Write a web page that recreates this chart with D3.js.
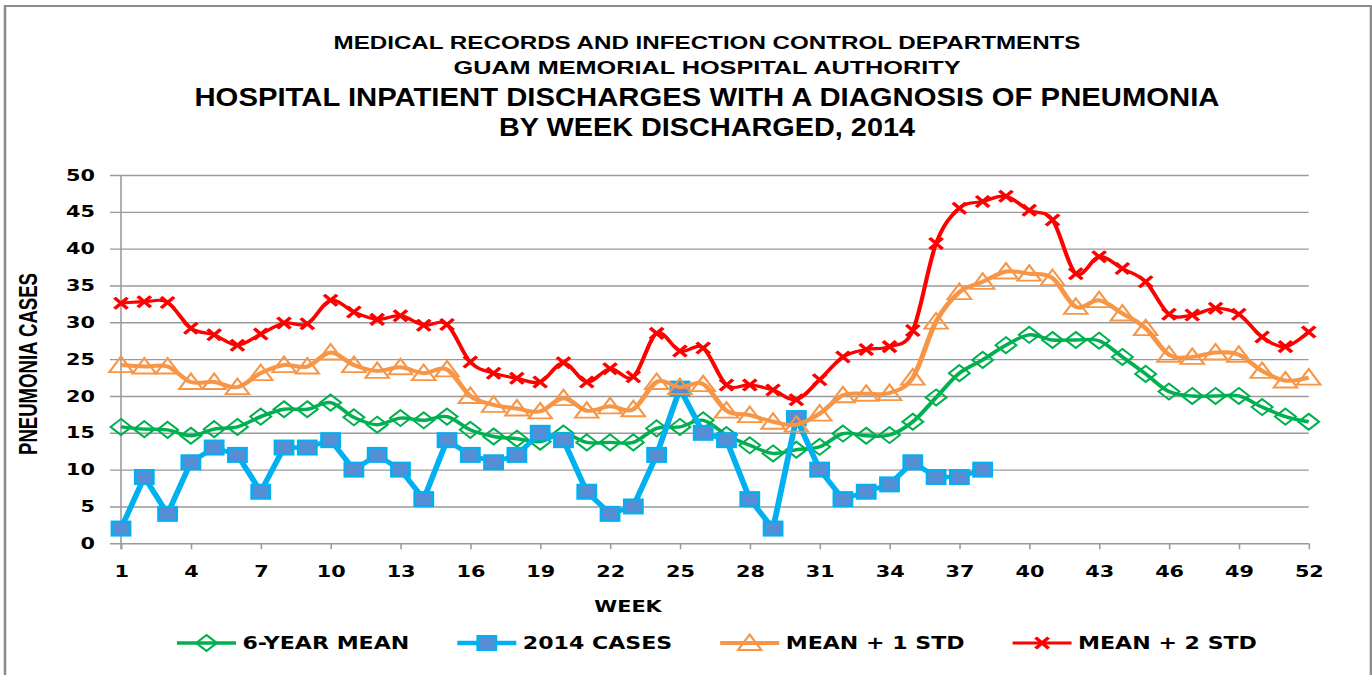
<!DOCTYPE html>
<html>
<head>
<meta charset="utf-8">
<script src="https://cdn.jsdelivr.net/npm/d3@7"></script>
<style>
	html, body { margin: 0; padding: 0; background: #fff; }
	svg { display: block; }
	.tick text { font-family: "DejaVu Sans", Verdana, sans-serif; font-weight: bold; font-size: 16px; fill: #000; }
	.title { font-family: "Liberation Sans Narrow", "Liberation Sans", Arial, sans-serif; font-weight: bold; fill: #000; }
	.legend text, .axisTitle { font-family: "DejaVu Sans", Verdana, sans-serif; font-weight: bold; fill: #000; }
</style>
</head>
<body>
<div id="chart"></div>
<script>
var weeks = [1, 2, 3, 4, 5, 6, 7, 8, 9, 10, 11, 12, 13, 14, 15, 16, 17, 18, 19, 20, 21, 22, 23, 24, 25, 26,
	27, 28, 29, 30, 31, 32, 33, 34, 35, 36, 37, 38, 39, 40, 41, 42, 43, 44, 45, 46, 47, 48, 49, 50, 51, 52];
var weekTicks = [1, 4, 7, 10, 13, 16, 19, 22, 25, 28, 31, 34, 37, 40, 43, 46, 49, 52];
var caseTicks = [0, 5, 10, 15, 20, 25, 30, 35, 40, 45, 50];

var mean6 = [15.8, 15.5, 15.4, 14.6, 15.5, 15.8, 17.2, 18.2, 18.2, 19.1,
	17.1, 16.1, 17.0, 16.7, 17.2, 15.4, 14.5, 14.2, 13.8, 14.9,
	13.7, 13.7, 13.7, 15.6, 15.8, 16.7, 14.7, 13.3, 12.2, 12.7,
	13.1, 14.9, 14.6, 14.7, 16.5, 19.8, 23.1, 24.9, 26.9, 28.3,
	27.6, 27.6, 27.5, 25.3, 23.0, 20.6, 20.0, 20.0, 20.0, 18.5, 17.2, 16.5];
var cases2014 = [2, 9, 4, 11, 13, 12, 7, 13, 13, 14,
	10, 12, 10, 6, 14, 12, 11, 12, 15, 14,
	7, 4, 5, 12, 21, 15, 14, 6, 2, 17,
	10, 6, 7, 8, 11, 9, 9, 10];
var mean1sd = [24.2, 24.0, 24.0, 21.9, 21.9, 21.2, 23.1, 24.2, 24.0, 25.9,
	24.2, 23.4, 23.9, 23.1, 23.6, 20.0, 18.8, 18.3, 17.9, 19.7,
	18.0, 18.6, 18.2, 21.9, 21.2, 21.6, 18.0, 17.4, 16.5, 16.1,
	17.6, 20.1, 20.3, 20.4, 22.5, 30.1, 34.1, 35.5, 36.9, 36.6,
	36.0, 32.1, 33.0, 31.2, 29.2, 25.6, 25.3, 25.9, 25.6, 23.4, 22.1, 22.5];
var mean2sd = [32.6, 32.8, 32.7, 29.2, 28.3, 26.9, 28.4, 29.9, 29.8, 33.0,
	31.4, 30.4, 30.9, 29.6, 29.7, 24.6, 23.1, 22.4, 21.9, 24.5,
	21.9, 23.7, 22.6, 28.5, 26.1, 26.5, 21.5, 21.5, 20.8, 19.5,
	22.2, 25.3, 26.3, 26.7, 28.9, 40.7, 45.5, 46.4, 47.1, 45.2,
	43.9, 36.6, 38.9, 37.3, 35.5, 31.1, 31.0, 31.9, 31.1, 28.0, 26.7, 28.7];

var seriesNames = ["6-YEAR MEAN", "2014 CASES", "MEAN + 1 STD", "MEAN + 2 STD"];
var titleLines = [
	"MEDICAL RECORDS AND INFECTION CONTROL DEPARTMENTS",
	"GUAM MEMORIAL HOSPITAL AUTHORITY",
	"HOSPITAL INPATIENT  DISCHARGES WITH A DIAGNOSIS OF PNEUMONIA",
	"BY WEEK DISCHARGED, 2014"
];

// the reference picture is stretched sideways, so draw narrow and let the viewBox stretch it
var SX = 1.3,
	outerW = 1372,
	outerH = 675,
	W = outerW / SX;

var plotLeft = 121 / SX,
	plotRight = 1308.7 / SX,
	plotTop = 175,
	plotBottom = 543.3;

var svg = d3.select("#chart").append("svg")
	.attr("width", outerW)
	.attr("height", outerH)
	.attr("viewBox", "0 0 " + W + " " + outerH)
	.attr("preserveAspectRatio", "none");

svg.append("rect").attr("width", W).attr("height", outerH).style("fill", "#fff");

// frame
svg.append("path")
	.attr("d", "M" + (5 / SX) + "," + outerH + "V6H" + (1371 / SX) + "V" + outerH)
	.style("fill", "none")
	.style("stroke", "#8c8c8c")
	.style("stroke-width", 2);

var x = d3.scaleLinear().domain([1, 52]).range([plotLeft, plotRight]);
var y = d3.scaleLinear().domain([0, 50]).range([plotBottom, plotTop]);

// titles
var titleBase = [49, 74, 106, 136],
	titleSize = [18, 18, 26, 26],
	titleLen = [747, 507, 1025, 416];
svg.selectAll(".title").data(titleLines).enter().append("text")
	.attr("class", "title")
	.attr("x", 707 / SX)
	.attr("y", function(d, i) { return titleBase[i]; })
	.attr("text-anchor", "middle")
	.attr("textLength", function(d, i) { return titleLen[i] / SX; })
	.attr("lengthAdjust", "spacingAndGlyphs")
	.style("font-size", function(d, i) { return titleSize[i] + "px"; })
	.text(function(d) { return d; });

// y gridlines + labels
var yAxis = svg.append("g")
	.attr("transform", "translate(" + plotLeft + ",0)")
	.call(d3.axisLeft(y).tickValues(caseTicks).tickSizeInner(-(plotRight - plotLeft)).tickSizeOuter(0).tickPadding(20));
yAxis.select(".domain").remove();
yAxis.selectAll(".tick line")
	.attr("x1", -8.5)
	.style("stroke", "#9a9a9a")
	.style("stroke-width", 1.4);

svg.append("line")
	.attr("x1", plotLeft).attr("x2", plotLeft)
	.attr("y1", plotTop).attr("y2", plotBottom + 6)
	.style("stroke", "#9a9a9a")
	.style("stroke-width", 1.2);

// x ticks + labels
var xAxis = svg.append("g")
	.attr("transform", "translate(0," + plotBottom + ")")
	.call(d3.axisBottom(x).tickValues(weekTicks).tickSizeInner(6).tickSizeOuter(0).tickPadding(16));
xAxis.select(".domain").remove();
xAxis.selectAll(".tick line").style("stroke", "#9a9a9a").style("stroke-width", 1.2);

svg.append("text")
	.attr("class", "axisTitle")
	.attr("x", 628 / SX)
	.attr("y", 612)
	.attr("text-anchor", "middle")
	.style("font-size", "16px")
	.text("WEEK");

svg.append("text")
	.attr("class", "title")
	.attr("transform", "translate(" + (37 / SX) + ",364) rotate(-90)")
	.attr("text-anchor", "middle")
	.attr("textLength", 182)
	.attr("lengthAdjust", "spacingAndGlyphs")
	.style("font-size", "20px")
	.text("PNEUMONIA CASES");

// markers
var markers = {
	diamond: function(g, color) {
		g.append("path").attr("d", "M0,-8L8,0L0,8L-8,0Z")
			.style("fill", "none").style("stroke", color).style("stroke-width", 1.8);
	},
	square: function(g, color) {
		g.append("rect").attr("x", -7).attr("y", -7).attr("width", 14).attr("height", 14)
			.style("fill", "#558ED5").style("stroke", color).style("stroke-width", 2);
	},
	triangle: function(g, color) {
		g.append("path").attr("d", "M0,-8.5L9,7L-9,7Z")
			.style("fill", "none").style("stroke", color).style("stroke-width", 1.8);
	},
	cross: function(g, color) {
		g.append("path").attr("d", "M-5,-5.5L5,5.5M-5,5.5L5,-5.5")
			.style("fill", "none").style("stroke", color).style("stroke-width", 3);
	}
};

var series = [
	{ name: seriesNames[0], values: mean6, color: "#00B050", width: 3.4, marker: "diamond", smooth: true },
	{ name: seriesNames[1], values: cases2014, color: "#00B0F0", width: 4.5, marker: "square", smooth: false },
	{ name: seriesNames[2], values: mean1sd, color: "#F79646", width: 4, marker: "triangle", smooth: true },
	{ name: seriesNames[3], values: mean2sd, color: "#FF0000", width: 3.2, marker: "cross", smooth: true }
];

series.forEach(function(s) {
	var pts = s.values.map(function(v, i) { return [weeks[i], v]; });
	var line = d3.line()
		.x(function(d) { return x(d[0]); })
		.y(function(d) { return y(d[1]); })
		.curve(s.smooth ? d3.curveCardinal.tension(0) : d3.curveLinear);

	var g = svg.append("g");
	g.append("path")
		.attr("d", line(pts))
		.style("fill", "none")
		.style("stroke", s.color)
		.style("stroke-width", s.width)
		.style("stroke-linejoin", "round");

	g.selectAll(".mk").data(pts).enter().append("g")
		.attr("class", "mk")
		.attr("transform", function(d) { return "translate(" + x(d[0]) + "," + y(d[1]) + ")"; })
		.each(function() { markers[s.marker](d3.select(this), s.color); });
});

// legend
var legend = svg.append("g").attr("class", "legend").attr("transform", "translate(0,643)");
var lx = 177 / SX,
	lineLen = 59 / SX;
series.forEach(function(s) {
	var item = legend.append("g").attr("transform", "translate(" + lx + ",0)");
	item.append("line")
		.attr("x1", 0).attr("x2", lineLen)
		.style("stroke", s.color)
		.style("stroke-width", s.width);
	var mk = item.append("g").attr("transform", "translate(" + (lineLen / 2) + ",0)");
	markers[s.marker](mk, s.color);
	var t = item.append("text")
		.attr("x", lineLen + 5)
		.attr("dy", "0.36em")
		.style("font-size", "17px")
		.text(s.name);
	lx += lineLen + 5 + t.node().getComputedTextLength() + 48 / SX;
});
</script>
</body>
</html>
